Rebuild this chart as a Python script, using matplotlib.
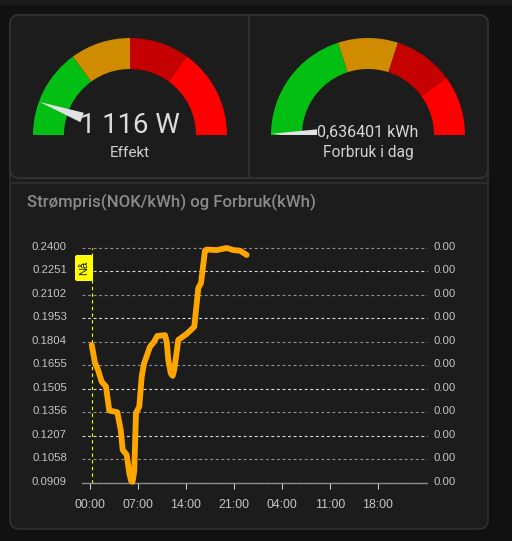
import matplotlib
matplotlib.use('Agg')
import matplotlib.pyplot as plt
from matplotlib.patches import FancyBboxPatch, Wedge, Polygon, Rectangle
from matplotlib.transforms import ScaledTranslation
import numpy as np

W, H = 512, 541

# gauges
gauge1_value = 1116
gauge1_max = 10000
gauge1_limits = [0, 3000, 5000, 7000, 10000]
gauge2_value = 0.636401
gauge2_max = 150
gauge2_limits = [0, 60, 90, 120, 150]
gauge_colors = ['#04bf13', '#cf8c00', '#c40000', '#ff0000']

# price line
hours = [0.25, 0.73, 1.17, 1.70, 2.33, 2.81, 3.98, 4.48, 4.77, 5.35, 5.75, 6.0, 6.2, 6.45, 6.71, 7.19,
         7.54, 7.87, 8.75, 9.3, 9.81, 10.94, 11.2, 11.42, 11.77, 12.06, 12.29, 12.88, 14.10, 15.21,
         15.79, 16.19, 16.77, 17.0, 18.48, 19.94, 20.90, 21.88, 22.85]
price = [0.1783, 0.1669, 0.1625, 0.1550, 0.1519, 0.1367, 0.1356, 0.1244, 0.1117, 0.1086,
         0.0965, 0.0920, 0.0915, 0.0980, 0.1352, 0.1392, 0.1582, 0.1663, 0.1772, 0.1800, 0.1840, 0.1845,
         0.1800, 0.1688, 0.1604, 0.1587, 0.1625, 0.1815, 0.1853, 0.1899, 0.2143, 0.2176, 0.2381, 0.2388, 0.2385,
         0.2398, 0.2385, 0.2381, 0.2354]
now_hour = 0.35

y_ticks = [0.0909, 0.1058, 0.1207, 0.1356, 0.1505, 0.1655, 0.1804, 0.1953, 0.2102, 0.2251, 0.2400]
y_labels = ['0.0909', '0.1058', '0.1207', '0.1356', '0.1505', '0.1655', '0.1804', '0.1953', '0.2102', '0.2251', '0.2400']
right_labels = ['0.00'] * 11
x_ticks = [0, 7, 14, 21, 28, 35, 42]
x_labels = ['00:00', '07:00', '14:00', '21:00', '04:00', '11:00', '18:00']

grid_colors = ['#9a9a9a', '#8f8f8f', '#d8d8d8', '#8f8f8f', '#d8d8d8', '#8f8f8f',
               '#8f8f8f', '#d8d8d8', '#8f8f8f', '#d8d8d8', '#8f8f8f']
border = '#303030'
card = '#1c1c1c'
label_col = '#c4c4c4'


def px_axes(fig, left, top, right, bottom):
    return fig.add_axes([left / W, 1 - bottom / H, (right - left) / W, (bottom - top) / H])


def gauge(fig, cx, cy, value, vmax, limits):
    # one axes unit is one pixel, centre of the arc at 0,0
    ax = px_axes(fig, cx - 110, cy - 110, cx + 110, cy)
    ax.set_xlim(-110, 110)
    ax.set_ylim(0, 110)
    ax.axis('off')
    ax.patch.set_alpha(0)
    for i, c in enumerate(gauge_colors):
        a1 = 180 - limits[i + 1] / vmax * 180
        a2 = 180 - limits[i] / vmax * 180
        ax.add_patch(Wedge((0, 0), 97, a1, a2, width=31, color=c, lw=0))
    a = np.radians(value / vmax * 180)
    d = np.array([-np.cos(a), np.sin(a)])
    n = np.array([d[1], -d[0]])
    base = d * 51
    ax.add_patch(Polygon([d * 96, base + n * 5, base - n * 5], closed=True, color='#e2e2e2', lw=0, zorder=5))


fig = plt.figure(figsize=(W / 100, H / 100), dpi=100, facecolor='#111111')

bg = fig.add_axes([0, 0, 1, 1])
bg.set_xlim(0, W)
bg.set_ylim(H, 0)
bg.axis('off')
bg.add_patch(Rectangle((0, 0), W, 5, color='#1a1a1a', lw=0))
# lower panel, square on top, rounded at the bottom
bg.add_patch(FancyBboxPatch((10, 165), 478, 364, boxstyle='round,pad=0,rounding_size=9', fc=card, ec=border, lw=1.2))
bg.plot([10, 488], [183, 183], color=border, lw=1.2)
# upper cards
bg.add_patch(FancyBboxPatch((10, 15), 478, 163, boxstyle='round,pad=0,rounding_size=9', fc=card, ec=border, lw=1.5))
bg.plot([249, 249], [16, 177], color=border, lw=1.5)

gauge(fig, 130, 135, gauge1_value, gauge1_max, gauge1_limits)
gauge(fig, 368, 135, gauge2_value, gauge2_max, gauge2_limits)

# chart
ax = px_axes(fig, 82, 247.7, 427, 482.7)
ax.patch.set_alpha(0)
ax.set_xlim(-1.167, 49.15)
ax.set_ylim(0.0909, 0.2400)
ax.set_yticks(y_ticks)
ax.set_yticklabels(y_labels, family='Liberation Sans', fontsize=8.2, color=label_col)
ax.set_xticks(x_ticks)
ax.set_xticklabels(x_labels, family='Liberation Sans', fontsize=8.9, color=label_col)
ax.tick_params(axis='y', length=0, pad=10.8)
ax.tick_params(axis='x', length=4, width=0.8, color='#cccccc', pad=7.5)
for s in ['top', 'left', 'right']:
    ax.spines[s].set_visible(False)
ax.spines['bottom'].set_color('#8a8a8a')
ax.spines['bottom'].set_linewidth(1)
ax.grid(axis='y', linestyle=(0, (2.6, 2.4)), linewidth=0.8)
for g, c in zip(ax.get_ygridlines(), grid_colors):
    g.set_color(c)
    g.set_clip_on(False)
ax.set_axisbelow(True)

ax.axvline(now_hour, color='#ffff00', lw=0.8, linestyle=(0, (3, 3)))
ax.plot(hours, price, color='#ffa500', lw=4.2, solid_joinstyle='round', solid_capstyle='round', clip_on=False, zorder=4)

ax2 = ax.twinx()
ax2.patch.set_alpha(0)
ax2.set_ylim(0.0909, 0.2400)
ax2.set_yticks(y_ticks)
ax2.set_yticklabels(right_labels, family='Liberation Sans', fontsize=8.2, color=label_col)
ax2.tick_params(axis='y', length=0, pad=5)
for s in ax2.spines.values():
    s.set_visible(False)

up = ScaledTranslation(0, 2 / 100, fig.dpi_scale_trans)
for t in ax.get_yticklabels() + ax2.get_yticklabels():
    t.set_transform(t.get_transform() + up)

txt = fig.add_axes([0, 0, 1, 1])
txt.set_xlim(0, W)
txt.set_ylim(H, 0)
txt.axis('off')
txt.patch.set_alpha(0)
txt.set_zorder(5)
txt.text(130, 133, '1 116 W', family='Roboto', fontsize=19.8, color='#dcdcdc', ha='center', va='baseline')
txt.text(130, 157, 'Effekt', family='Roboto', fontsize=11, color='#d0d0d0', ha='center', va='baseline')
txt.text(368, 137, '0,636401 kWh', family='Roboto', fontsize=11.5, color='#d8d8d8', ha='center', va='baseline')
txt.text(368, 157, 'Forbruk i dag', family='Roboto', fontsize=11.2, color='#d0d0d0', ha='center', va='baseline')
txt.text(27, 202, 'Strømpris(NOK/kWh) og Forbruk(kWh)', family='Roboto', fontsize=12.1, weight='medium',
         color='#8a8a8a', ha='left', va='center')
txt.add_patch(FancyBboxPatch((75, 255), 18, 26, boxstyle='round,pad=0,rounding_size=2', fc='#ffff00', ec='none'))
txt.text(84, 268, 'Nå', rotation=90, family='Liberation Sans', fontsize=8, color='#111111', ha='center', va='center')

fig.savefig('out.png', dpi=100, facecolor=fig.get_facecolor())
